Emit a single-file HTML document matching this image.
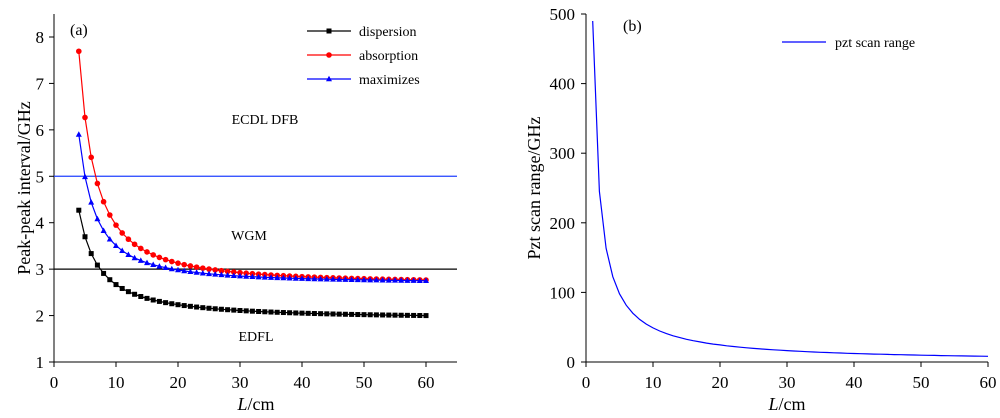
<!DOCTYPE html>
<html><head><meta charset="utf-8"><style>
body{margin:0;background:#fff}
svg text{font-family:"Liberation Serif",serif;fill:#000}
</style></head><body>
<svg id="s" width="1000" height="413" viewBox="0 0 1000 413" xmlns="http://www.w3.org/2000/svg"></svg>
<script>
const s=document.getElementById('s');let h='';
const X=v=>54+v*6.2, Y=v=>362-(v-1)*46.43;
h+='<line x1="54" y1="14" x2="54" y2="362" stroke="#000"/><line x1="54" y1="362" x2="457" y2="362" stroke="#000"/>';
for(let v=1;v<=8;v++){h+=`<line x1="49" y1="${Y(v)}" x2="54" y2="${Y(v)}" stroke="#000"/><text x="44" y="${Y(v)+6}" font-size="17" text-anchor="end">${v}</text>`;}
for(let v=0;v<=60;v+=10){h+=`<line x1="${X(v)}" y1="362" x2="${X(v)}" y2="367" stroke="#000"/><text x="${X(v)}" y="388" font-size="17" text-anchor="middle">${v}</text>`;}
h+=`<text x="256" y="410" font-size="18" text-anchor="middle"><tspan font-style="italic">L</tspan>/cm</text>`;
h+=`<text transform="translate(30,188) rotate(-90)" font-size="18" text-anchor="middle">Peak-peak interval/GHz</text>`;
h+=`<line x1="54" y1="${Y(5)}" x2="457" y2="${Y(5)}" stroke="#2040ff" stroke-width="1.2"/><line x1="54" y1="${Y(3)}" x2="457" y2="${Y(3)}" stroke="#000" stroke-width="1.2"/>`;
h+=`<text x="70" y="35" font-size="16">(a)</text><text x="265" y="124" font-size="14" text-anchor="middle">ECDL DFB</text><text x="249" y="240" font-size="14" text-anchor="middle">WGM</text><text x="256" y="341" font-size="14" text-anchor="middle">EDFL</text>`;
const ser=[
 {c:'#000',a:1.92,b:13.29,e:1.25,m:'sq'},
 {c:'#ff0000',a:2.68,b:40.1,e:1.5,m:'ci'},
 {c:'#0000ff',a:2.695,b:25.65,e:1.5,m:'tr'}];
function mk(t,x,y,c){if(t=='sq')return `<rect x="${x-2.5}" y="${y-2.5}" width="5" height="5" fill="${c}"/>`;if(t=='ci')return `<circle cx="${x}" cy="${y}" r="2.8" fill="${c}"/>`;return `<polygon points="${x},${y-3.2} ${x+3},${y+2.3} ${x-3},${y+2.3}" fill="${c}"/>`;}
ser.forEach(o=>{let p=[],m='';for(let L=4;L<=60;L++){const x=X(L),y=Y(o.a+o.b*Math.pow(L,-o.e));p.push(x.toFixed(1)+','+y.toFixed(1));m+=mk(o.m,x,y,o.c);}
 h+=`<polyline points="${p.join(' ')}" fill="none" stroke="${o.c}" stroke-width="1.2"/>`+m;});
const lg=[['dispersion',31,'sq','#000'],['absorption',55,'ci','#ff0000'],['maximizes',79,'tr','#0000ff']];
lg.forEach(l=>{h+=`<line x1="307" y1="${l[1]}" x2="351" y2="${l[1]}" stroke="${l[3]}" stroke-width="1.2"/>`+mk(l[2],329,l[1],l[3])+`<text x="359" y="${l[1]+5}" font-size="14">${l[0]}</text>`;});
const X2=v=>586+v*6.7, Y2=v=>362-v*0.696;
h+='<line x1="586" y1="14" x2="586" y2="362" stroke="#000"/><line x1="586" y1="362" x2="988" y2="362" stroke="#000"/>';
for(let v=0;v<=500;v+=100){h+=`<line x1="581" y1="${Y2(v)}" x2="586" y2="${Y2(v)}" stroke="#000"/><text x="575" y="${Y2(v)+6}" font-size="17" text-anchor="end">${v}</text>`;}
for(let v=0;v<=60;v+=10){h+=`<line x1="${X2(v)}" y1="362" x2="${X2(v)}" y2="367" stroke="#000"/><text x="${X2(v)}" y="388" font-size="17" text-anchor="middle">${v}</text>`;}
h+=`<text x="787" y="410" font-size="18" text-anchor="middle"><tspan font-style="italic">L</tspan>/cm</text>`;
h+=`<text transform="translate(540,188) rotate(-90)" font-size="18" text-anchor="middle">Pzt scan range/GHz</text>`;
h+=`<text x="623" y="31" font-size="16">(b)</text><line x1="782" y1="42" x2="826" y2="42" stroke="#0000ff" stroke-width="1.2"/><text x="835" y="47" font-size="14">pzt scan range</text>`;
let p=[];for(let L=1;L<=60;L+=1){p.push(X2(L).toFixed(1)+','+Y2(490/L).toFixed(1));}
h+=`<polyline points="${p.join(' ')}" fill="none" stroke="#0000ff" stroke-width="1.2"/>`;
s.innerHTML=h;
</script>
</body></html>
